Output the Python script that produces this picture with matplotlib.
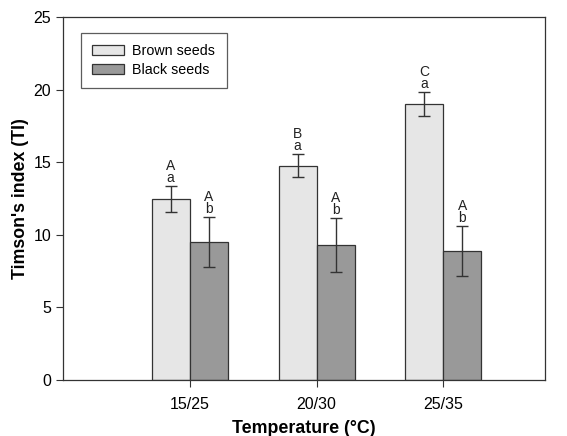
import matplotlib
matplotlib.use("Agg")
import matplotlib.pyplot as plt
import numpy as np

plt.rcParams['font.family'] = ['Liberation Sans', 'DejaVu Sans']

categories = ["15/25", "20/30", "25/35"]
brown = [12.45, 14.75, 19.0]
brown_err = [0.9, 0.8, 0.82]
black = [9.5, 9.3, 8.88]
black_err = [1.75, 1.86, 1.71]
brown_upper = ["A", "B", "C"]
brown_lower = ["a", "a", "a"]
black_upper = ["A", "A", "A"]
black_lower = ["b", "b", "b"]

fig = plt.figure(figsize=(5.67, 4.36), dpi=100)
ax = fig.add_axes([0.111, 0.1284, 0.85, 0.8326])

x = np.arange(1, len(categories) + 1)
w = 0.3
edge = "#333333"
ax.bar(x - w/2, brown, w, color="#e6e6e6", edgecolor=edge, linewidth=0.9, label="Brown seeds")
ax.bar(x + w/2, black, w, color="#999999", edgecolor=edge, linewidth=0.9, label="Black seeds")
ax.errorbar(x - w/2, brown, yerr=brown_err, fmt="none", ecolor=edge, elinewidth=1.0, capsize=4.5, capthick=1.0)
ax.errorbar(x + w/2, black, yerr=black_err, fmt="none", ecolor=edge, elinewidth=1.0, capsize=4.5, capthick=1.0)

def letters(xs, vals, errs, ups, los):
    for xi, v, e, up, lo in zip(xs, vals, errs, ups, los):
        ax.annotate(lo, (xi, v + e), xytext=(0, 2.8), textcoords="offset points",
                    ha="center", va="baseline", fontsize=10, color="#222222")
        ax.annotate(up, (xi, v + e), xytext=(0, 11.5), textcoords="offset points",
                    ha="center", va="baseline", fontsize=10, color="#222222")

letters(x - w/2, brown, brown_err, brown_upper, brown_lower)
letters(x + w/2, black, black_err, black_upper, black_lower)

ax.set_xlim(0, 3.8)
ax.set_ylim(0, 25)
ax.set_yticks([0, 5, 10, 15, 20, 25])
ax.set_xticks(x)
ax.set_xticklabels(categories)
ax.tick_params(axis="both", direction="out", labelsize=11.5, color=edge, length=5)
ax.tick_params(axis="x", pad=7)
for s in ax.spines.values():
    s.set_color(edge)
    s.set_linewidth(0.9)

ax.set_xlabel("Temperature (°C)", fontsize=12.8, fontweight="bold", labelpad=6)
ax.set_ylabel("Timson's index (TI)", fontsize=12.8, fontweight="bold", labelpad=3)

leg = ax.legend(loc="upper left", bbox_to_anchor=(0.037, 0.956), borderaxespad=0,
                fontsize=10.3, frameon=True,
                fancybox=False, edgecolor=edge, handlelength=2.25, handleheight=0.7,
                borderpad=0.8, labelspacing=0.3, handletextpad=0.55)
leg.get_frame().set_linewidth(0.9)

fig.savefig("out.png", dpi=100)
